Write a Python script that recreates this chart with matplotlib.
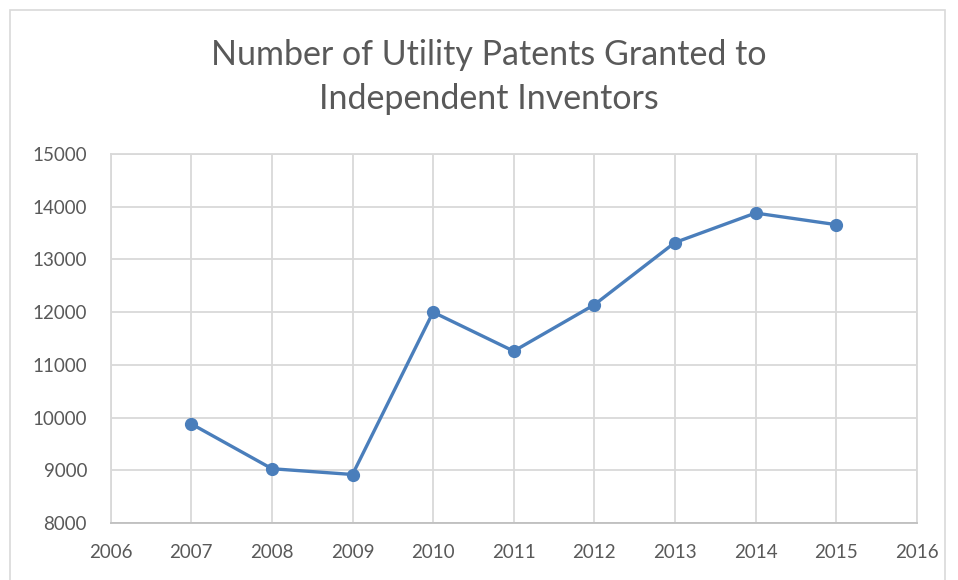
import matplotlib.pyplot as plt
from matplotlib.patches import Rectangle

years = [2007, 2008, 2009, 2010, 2011, 2012, 2013, 2014, 2015]
patents = [9880, 9030, 8920, 12000, 11260, 12140, 13320, 13880, 13660]
x_ticks = list(range(2006, 2017))
y_ticks = list(range(8000, 15001, 1000))

plt.rcParams['font.family'] = ['Lato', 'DejaVu Sans']

fig = plt.figure(figsize=(9.58, 5.8), dpi=100)
ax = fig.add_axes([110.7 / 958, 1 - 523 / 580, (916.7 - 110.7) / 958, (523 - 154) / 580])

# light frame round the whole chart
fig.patches.append(Rectangle((10 / 958, -0.05), 935 / 958, 1.05 - 10 / 580,
                             transform=fig.transFigure, fill=False,
                             edgecolor='#D9D9D9', linewidth=1.2))

ax.plot(years, patents, color='#4A7EBB', linewidth=2.4, marker='o',
        markersize=8.5, zorder=3)

ax.set_xlim(2006, 2016)
ax.set_ylim(8000, 15000)
ax.set_xticks(x_ticks)
ax.set_yticks(y_ticks)
ax.grid(True, color='#D9D9D9', linewidth=1.3)
ax.set_axisbelow(True)
for side in ['top', 'right', 'left']:
    ax.spines[side].set_color('#D9D9D9')
    ax.spines[side].set_linewidth(1.3)
ax.spines['bottom'].set_color('#BFBFBF')
ax.spines['bottom'].set_linewidth(1.3)
ax.tick_params(length=0, labelsize=13.5, colors='#595959', pad=15)
ax.tick_params(axis='y', pad=17)

fig.text(489 / 958, 1 - 77 / 580, 'Number of Utility Patents Granted to\nIndependent Inventors',
         ha='center', va='center', fontsize=24.5, color='#595959', linespacing=1.45)

fig.savefig('out.png', dpi=100)
